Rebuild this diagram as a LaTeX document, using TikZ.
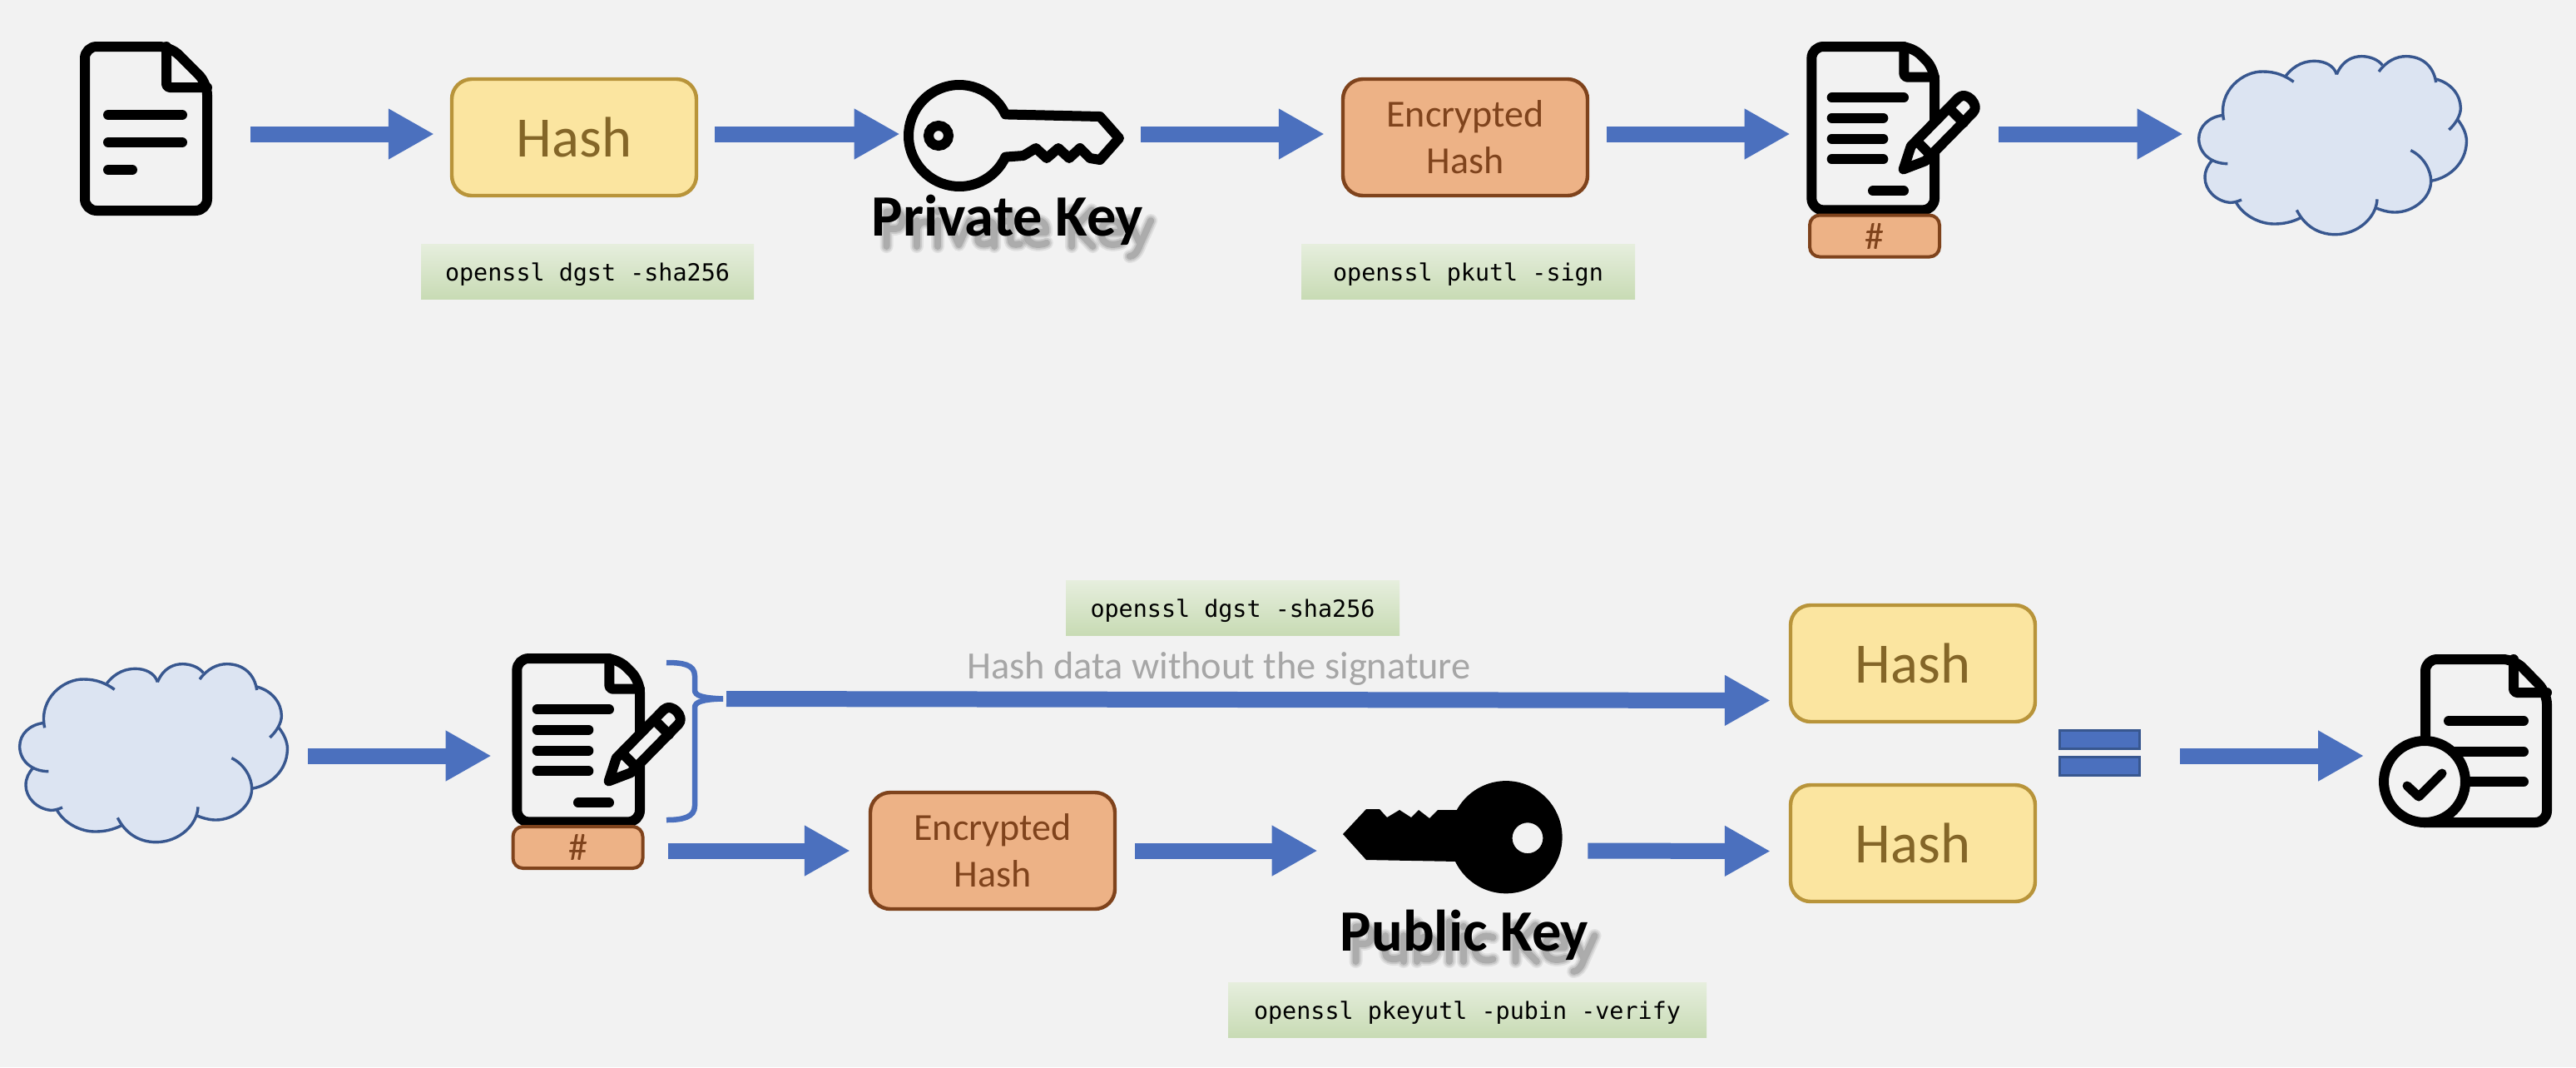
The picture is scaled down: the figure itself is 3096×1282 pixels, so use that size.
\documentclass[tikz,border=0pt]{standalone}
\usepackage{fontspec}
\setmainfont{Carlito}
\newfontfamily\cmdfont{DejaVu Sans Mono}
\usetikzlibrary{arrows.meta,shapes.geometric}
\definecolor{bgc}{HTML}{F2F2F2}
\definecolor{flowc}{HTML}{4B70BE}
\definecolor{hashfill}{HTML}{FBE5A0}
\definecolor{hashline}{HTML}{B8943A}
\definecolor{hashtext}{HTML}{846628}
\definecolor{encfill}{HTML}{EDB286}
\definecolor{encline}{HTML}{7F431C}
\definecolor{cloudfill}{HTML}{DCE4F2}
\definecolor{cloudline}{HTML}{38578F}
\definecolor{greentop}{HTML}{F5F8F2}
\definecolor{greenmid}{HTML}{C5D9B0}
\definecolor{greenlow}{HTML}{D0E0C0}
\pgfdeclareverticalshading{cmdshade}{100bp}{color(0bp)=(greenlow); color(20bp)=(greenmid); color(100bp)=(greentop)}
\tikzset{
  flow/.style={draw=flowc,line width=9.5pt,shorten >=-1pt,-{Triangle[width=28.5pt,length=27.5pt]}},
  hashbox/.style={draw=hashline,fill=hashfill,text=hashtext,line width=2.2pt,rounded corners=12pt,
    minimum width=147pt,minimum height=70pt,inner sep=0pt,font=\fontsize{34.3}{40}\selectfont},
  encbox/.style={draw=encline,fill=encfill,text=encline,line width=2.2pt,rounded corners=12pt,
    minimum width=147pt,minimum height=70pt,inner sep=0pt,align=center,font=\fontsize{23}{28}\selectfont},
  tagbox/.style={draw=encline,fill=encfill,text=encline,line width=2pt,rounded corners=6pt,
    minimum width=78pt,minimum height=25pt,inner sep=0pt,font=\fontsize{23}{28}\selectfont},
  cmdbox/.style={shading=cmdshade,text=black,inner sep=0pt,minimum height=33pt,
    text height=12pt,text depth=1pt,font=\cmdfont\fontsize{14.2}{17}\selectfont},
  iconbox/.style={inner sep=0pt,minimum width=#1},
  inkline/.style={draw=black,line width=6pt,line cap=round,line join=round},
  keytext/.style={font=\bfseries\fontsize{35.2}{40}\selectfont,anchor=base},
  eqbar/.style={draw=cloudline,fill=flowc,line width=1.5pt,minimum width=48pt,minimum height=11pt,inner sep=0pt},
  graytext/.style={text=black!35,font=\fontsize{23.2}{28}\selectfont,anchor=base},
  cloudarc/.style={draw=cloudline,line width=1.7pt},
}
\newcommand{\cloudshape}[2]{%
 \begin{scope}[shift={(#1,#2)},x=0.16667pt,y=-0.16667pt]
  \fill[cloudfill] (128,268) .. controls (105,160) and (200,90) .. (270,93) .. controls (315,93) and (350,108) .. (380,130)
   -- (352,108) .. controls (385,65) and (425,55) .. (455,55) .. controls (490,55) and (525,70) .. (535,103)
   .. controls (555,55) and (590,38) .. (625,38) .. controls (655,38) and (685,50) .. (700,70)
   -- (687,93) .. controls (715,55) and (750,38) .. (785,38) .. controls (845,38) and (885,75) .. (893,132)
   -- (893,120) .. controls (950,135) and (982,180) .. (982,225) .. controls (982,250) and (965,280) .. (940,303)
   -- (970,265) .. controls (1000,300) and (1005,335) .. (1003,350) .. controls (1000,420) and (945,475) .. (875,487)
   .. controls (875,550) and (810,600) .. (745,600) .. controls (720,600) and (695,592) .. (678,585)
   -- (681,553) .. controls (678,620) and (610,680) .. (530,680) .. controls (470,680) and (420,650) .. (391,592)
   -- (405,620) .. controls (375,635) and (345,642) .. (310,642) .. controls (255,642) and (195,610) .. (170,560)
   -- (192,555) .. controls (175,562) and (165,565) .. (150,565) .. controls (100,560) and (60,520) .. (60,475) .. controls (60,450) and (70,430) .. (87,412)
   -- (142,425) .. controls (80,425) and (38,385) .. (38,335) .. controls (38,290) and (75,255) .. (128,250) -- cycle;
  \draw[cloudarc] (128,268) .. controls (105,160) and (200,90) .. (270,93) .. controls (315,93) and (350,108) .. (380,130);
  \draw[cloudarc] (352,108) .. controls (385,65) and (425,55) .. (455,55) .. controls (490,55) and (525,70) .. (535,103);
  \draw[cloudarc] (535,103) .. controls (555,55) and (590,38) .. (625,38) .. controls (655,38) and (685,50) .. (700,70);
  \draw[cloudarc] (687,93) .. controls (715,55) and (750,38) .. (785,38) .. controls (845,38) and (885,75) .. (893,132);
  \draw[cloudarc] (893,120) .. controls (950,135) and (982,180) .. (982,225) .. controls (982,250) and (965,280) .. (940,303);
  \draw[cloudarc] (970,265) .. controls (1000,300) and (1005,335) .. (1003,350) .. controls (1000,420) and (945,475) .. (875,487);
  \draw[cloudarc] (802,377) .. controls (850,400) and (875,450) .. (875,487) .. controls (875,550) and (810,600) .. (745,600) .. controls (720,600) and (695,592) .. (678,585);
  \draw[cloudarc] (681,553) .. controls (678,620) and (610,680) .. (530,680) .. controls (470,680) and (420,650) .. (391,592);
  \draw[cloudarc] (405,620) .. controls (375,635) and (345,642) .. (310,642) .. controls (255,642) and (195,610) .. (170,560);
  \draw[cloudarc] (192,555) .. controls (175,562) and (165,565) .. (150,565) .. controls (100,560) and (60,520) .. (60,475) .. controls (60,450) and (70,430) .. (87,412);
  \draw[cloudarc] (142,425) .. controls (80,425) and (38,385) .. (38,335) .. controls (38,290) and (75,255) .. (128,250);
 \end{scope}}
\newcommand{\signeddoc}[2]{%
 \begin{scope}[shift={(#1,#2)},x=0.16667pt,y=-0.16667pt]
  \draw[inkline,rounded corners=7pt] (445,78) -- (82,78) -- (82,667) -- (525,667) -- (525,158) -- cycle;
  \draw[inkline,rounded corners=2pt] (415,78) -- (415,188) -- (525,188);
  \draw[inkline] (155,262) -- (414,262);
  \draw[inkline] (155,335) -- (340,335);
  \draw[inkline] (155,410) -- (340,410);
  \draw[inkline] (155,484) -- (340,484);
  \draw[inkline] (303,598) -- (414,598);
  \draw[inkline,fill=bgc] (413,520) -- (440,437) -- (612,262) .. controls (640,235) and (690,290) .. (664,315) -- (492,490) -- cycle;
  \draw[inkline] (460,417) -- (512,470);
  \draw[inkline] (578,300) -- (630,352);
 \end{scope}}
% soft drop shadow of the key captions: letter skeletons, stroked in layers
\def\glyphP{(135,0) -- (135,590) -- (290,590) .. controls (440,590) and (440,300) .. (290,300) -- (135,300)}
\def\glyphr{(120,0) -- (120,440) (120,300) .. controls (160,420) and (240,440) .. (320,410)}
\def\glyphi{(123,0) -- (123,440) (123,590) -- (123,600)}
\def\glyphv{(50,440) -- (236,30) -- (420,440)}
\def\glypha{(100,400) .. controls (220,460) and (370,460) .. (370,300) -- (370,0) (370,250) .. controls (150,250) and (70,200) .. (90,100) .. controls (110,10) and (280,20) .. (370,110)}
\def\glypht{(150,560) -- (150,120) .. controls (150,30) and (220,20) .. (310,40) (40,430) -- (300,430)}
\def\glyphe{(100,240) -- (410,240) .. controls (420,400) and (340,440) .. (260,440) .. controls (120,440) and (80,330) .. (80,220) .. controls (80,80) and (180,30) .. (260,30) .. controls (320,30) and (380,40) .. (420,60)}
\def\glyphK{(120,0) -- (120,620) (460,620) -- (170,320) -- (480,0)}
\def\glyphy{(50,440) -- (240,40) (420,440) -- (240,40) .. controls (190,-100) and (130,-170) .. (60,-170)}
\def\glyphu{(110,440) -- (110,140) .. controls (110,20) and (320,10) .. (420,100) (420,440) -- (420,0)}
\def\glyphb{(110,0) -- (110,660) (110,340) .. controls (180,450) and (450,470) .. (450,220) .. controls (450,-20) and (180,20) .. (110,100)}
\def\glyphl{(123,0) -- (123,680)}
\def\glyphc{(380,410) .. controls (220,470) and (70,400) .. (70,220) .. controls (70,40) and (240,-10) .. (380,40)}
\newcommand{\softshadow}[3]{%
  \foreach \g/\c in {#3} {%
    \pgfmathsetmacro{\px}{#1+\c*0.0704}%
    \expandafter\let\expandafter\gp\csname glyph\g\endcsname
    \begin{scope}[shift={(\px,#2)},x=0.0352pt,y=0.0352pt]
      \draw[black,line cap=round,line join=round,line width=8pt,opacity=0.07] \gp;
      \draw[black,line cap=round,line join=round,line width=6pt,opacity=0.10] \gp;
      \draw[black,line cap=round,line join=round,line width=4pt,opacity=0.14] \gp;
    \end{scope}}}
\begin{document}
\begin{tikzpicture}[x=0.5pt,y=-0.5pt]
\useasboundingbox[fill=bgc] (0,0) rectangle (3096,1282);

% --- top row ---
\node[iconbox=79.5pt,minimum height=104.5pt] (doc1) at (175.5,154.5) {};
\draw[inkline,rounded corners=7pt] (205,56) -- (102,56) -- (102,253) -- (249,253) -- (249,100) -- cycle;
\draw[inkline,rounded corners=2pt] (200,56) -- (200,105) -- (249,105);
\draw[inkline] (130,138) -- (219,138);
\draw[inkline] (130,171) -- (219,171);
\draw[inkline] (130,204) -- (159,204);

\node[hashbox] (hash1) at (690,165) {Hash};

\node[iconbox=132.5pt,minimum height=67pt] (key1) at (1218.5,163) {};
\draw[inkline] (1153,163) ++(24.8:30.5pt) arc[start angle=24.8,end angle=335.2,radius=30.5pt]
  -- (1230,187) -- (1245,178) -- (1258,190) -- (1272,178) -- (1285,190) -- (1298,178) -- (1310,190) -- (1322,192) -- (1345,166) -- (1322,140) -- cycle;
\draw[draw=black,line width=6pt] (1128,163) circle[radius=6pt];
\softshadow{1056}{296}{P/0,r/532,i/887,v/1133,a/1606,t/2100,e/2447,K/3176,e/3723,y/4226}
\node[keytext] (privlabel) at (1211,283) {Private Key};

\node[encbox] (enc1) at (1761,165) {Encrypted\\Hash};

\node[iconbox=104pt,minimum height=104pt] (sdoc1) at (2276,154) {};
\signeddoc{2150}{30}
\node[tagbox] (tag1) at (2253,283.5) {\#};

\node[iconbox=161.5pt,minimum height=109pt] (cloud1) at (2802.5,174.5) {};
\cloudshape{2630}{55}

\node[cmdbox,minimum width=200pt] (cmd1) at (706,326) {openssl dgst -sha256};
\node[cmdbox,minimum width=200.5pt] (cmd2) at (1764.5,326) {openssl pkutl -sign};

\draw[flow] ([shift={(46,6.5)}]doc1.east) -- ([shift={(-21,-4)}]hash1.west);
\draw[flow] ([shift={(20,-4)}]hash1.east) -- ([shift={(-6,-2)}]key1.west);
\draw[flow] ([shift={(20,-2)}]key1.east) -- ([shift={(-22,-4)}]enc1.west);
\draw[flow] ([shift={(21,-4)}]enc1.east) -- ([shift={(-22,7)}]sdoc1.west);
\draw[flow] ([shift={(22,7)}]sdoc1.east) -- ([shift={(-19,-13.5)}]cloud1.west);

% --- bottom row ---
\node[iconbox=161.5pt,minimum height=109pt] (cloud2) at (183.5,905) {};
\cloudshape{11}{785}

\node[iconbox=104pt,minimum height=104pt] (sdoc2) at (720,890) {};
\signeddoc{594}{765}
\node[tagbox] (tag2) at (694.5,1018) {\#};

\coordinate (bracetip) at (869,839.5);
\draw[draw=flowc,line width=3.25pt] (801,796) .. controls (820,796) and (835,798) .. (835,812) -- (835,829)
  .. controls (835,836) and (845,838.5) .. (bracetip);
\draw[draw=flowc,line width=3.25pt] (bracetip) .. controls (845,840) and (835,843) .. (835,850)
  -- (835,968) .. controls (835,982) and (820,985) .. (801,985);

\node[hashbox] (hash2) at (2299,797) {Hash};
\node[hashbox] (hash3) at (2299,1013) {Hash};
\node[encbox] (enc2) at (1193,1022) {Encrypted\\Hash};

\node[iconbox=133pt,minimum height=67.5pt] (pubkey) at (1746,1005.5) {};
\fill[even odd rule] (1810,1005.7) circle[radius=33.8pt] (1836,1006.7) circle[radius=9.2pt];
\fill[line join=round] (1753,973) -- (1728,973) -- (1718,983) -- (1705,973) -- (1696,982) -- (1682,973) -- (1667,982) -- (1658,972)
  -- (1642,972) -- (1614,1002) -- (1642,1033) -- (1753,1035) -- cycle;
\softshadow{1620}{1155}{P/0,u/532,b/1069,l/1606,i/1852,c/2098,K/2742,e/3289,y/3792}
\node[keytext] (publabel) at (1760,1142) {Public Key};

\node[eqbar] (eq1) at (2523.5,888.5) {};
\node[eqbar] (eq2) at (2523.5,920.5) {};

\node[iconbox=103.5pt,minimum height=104pt] (vdoc) at (2963,890) {};
\draw[inkline,rounded corners=7pt] (2915,885) -- (2915,792) -- (3022,792) -- (3061,832) -- (3061,988) -- (2913,988);
\draw[inkline,rounded corners=2pt] (3021,792) -- (3021,832) -- (3061,832);
\draw[inkline] (2943,866) -- (3033,866);
\draw[inkline] (2948,903) -- (3033,903);
\draw[inkline] (2968,939) -- (3033,939);
\draw[draw=black,line width=6pt] (2914,939) circle[radius=24.5pt];
\draw[inkline,line width=5.5pt] (2893,944) -- (2907,957) -- (2935,929);

\node[cmdbox,minimum width=200.5pt] (cmd3) at (1481.5,730) {openssl dgst -sha256};
\node[cmdbox,minimum width=287.5pt] (cmd4) at (1763.5,1213) {openssl pkeyutl -pubin -verify};
\node[graytext] (note) at (1465,815) {Hash data without the signature};

\draw[flow] ([shift={(25,3)}]cloud2.east) -- ([shift={(-27,18)}]sdoc2.west);
\draw[flow] ([shift={(4,0)}]bracetip) -- ([shift={(-24,44.5)}]hash2.west);
\draw[flow] ([shift={(28,4)}]tag2.east) -- ([shift={(-24,0)}]enc2.west);
\draw[flow] ([shift={(22,0)}]enc2.east) -- ([shift={(-31,16.5)}]pubkey.west);
\draw[flow] ([shift={(29,16.5)}]pubkey.east) -- ([shift={(-24,9.5)}]hash3.west);
\draw[flow] ([shift={(47,19.5)}]eq1.east) -- ([shift={(-20,18)}]vdoc.west);
\end{tikzpicture}
\end{document}
